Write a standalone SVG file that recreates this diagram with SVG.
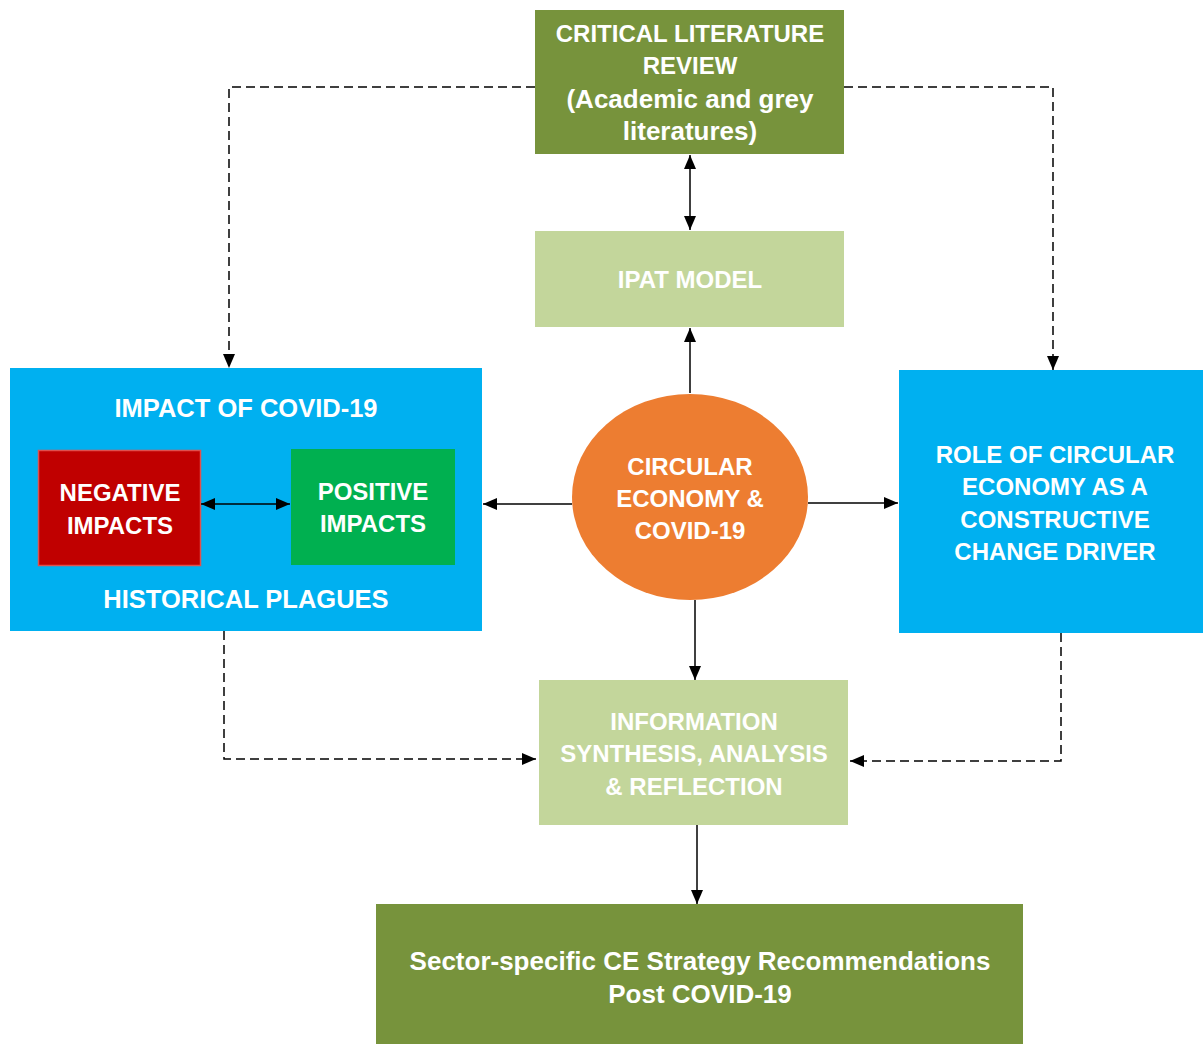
<svg xmlns="http://www.w3.org/2000/svg" width="1203" height="1044" viewBox="0 0 1203 1044">
<style>
text{font-family:"Liberation Sans",Arial,sans-serif;font-weight:bold;fill:#fff;text-anchor:middle;font-size:24px}
.lc{font-size:26px}
.t25{font-size:25.5px}
.s{stroke:#000;stroke-width:1.5;fill:none}
.d{stroke:#000;stroke-width:1.5;fill:none;stroke-dasharray:9 5}
</style>
<defs>
<marker id="ah" markerUnits="userSpaceOnUse" markerWidth="14" markerHeight="14" viewBox="0 0 14 14" refX="14" refY="7" orient="auto-start-reverse">
<path d="M0,1 L14,7 L0,13 Z" fill="#000"/>
</marker>
</defs>
<rect width="1203" height="1044" fill="#fff"/>
<g id="literature">
<rect x="535" y="10" width="309" height="144" fill="#77933C"/>
<text x="690" y="42">CRITICAL LITERATURE</text>
<text x="690" y="74">REVIEW</text>
<text class="lc" x="690" y="108">(Academic and grey</text>
<text class="lc" x="690" y="140">literatures)</text>
</g>
<g id="ipat">
<rect x="535" y="231" width="309" height="96" fill="#C3D69B"/>
<text x="690" y="288">IPAT MODEL</text>
</g>
<g id="impact">
<rect x="10" y="368" width="472" height="263" fill="#00B0F0"/>
<text class="t25" x="246" y="417">IMPACT OF COVID-19</text>
<text class="t25" x="246" y="608">HISTORICAL PLAGUES</text>
</g>
<g id="negative">
<rect x="38.5" y="450.5" width="162" height="115" fill="#C00000" stroke="#E0504E" stroke-width="1.5"/>
<text x="120" y="501">NEGATIVE</text>
<text x="120" y="534">IMPACTS</text>
</g>
<g id="positive">
<rect x="291" y="449" width="164" height="116" fill="#00B050"/>
<text x="373" y="500">POSITIVE</text>
<text x="373" y="532">IMPACTS</text>
</g>
<g id="circular">
<ellipse cx="690" cy="497" rx="118" ry="103" fill="#ED7D31"/>
<text x="690" y="475">CIRCULAR</text>
<text x="690" y="507">ECONOMY &amp;</text>
<text x="690" y="539">COVID-19</text>
</g>
<g id="role">
<rect x="899" y="370" width="304" height="263" fill="#00B0F0"/>
<text x="1055" y="463">ROLE OF CIRCULAR</text>
<text x="1055" y="495">ECONOMY AS A</text>
<text x="1055" y="528">CONSTRUCTIVE</text>
<text x="1055" y="560">CHANGE DRIVER</text>
</g>
<g id="synthesis">
<rect x="539" y="680" width="309" height="145" fill="#C3D69B"/>
<text x="694" y="730">INFORMATION</text>
<text x="694" y="762">SYNTHESIS, ANALYSIS</text>
<text x="694" y="795">&amp; REFLECTION</text>
</g>
<g id="recommendations">
<rect x="376" y="904" width="647" height="140" fill="#77933C"/>
<text class="lc" x="700" y="970">Sector-specific CE Strategy Recommendations</text>
<text class="lc" x="700" y="1003">Post COVID-19</text>
</g>
<g id="connectors">
<line class="s" x1="690" y1="155" x2="690" y2="230" marker-start="url(#ah)" marker-end="url(#ah)"/>
<line class="s" x1="690" y1="393" x2="690" y2="328" marker-end="url(#ah)"/>
<line class="s" x1="201" y1="504" x2="290" y2="504" marker-start="url(#ah)" marker-end="url(#ah)"/>
<line class="s" x1="572" y1="504" x2="483" y2="504" marker-end="url(#ah)"/>
<line class="s" x1="808" y1="503" x2="898" y2="503" marker-end="url(#ah)"/>
<line class="s" x1="695" y1="600" x2="695" y2="680" marker-end="url(#ah)"/>
<line class="s" x1="697" y1="825" x2="697" y2="904" marker-end="url(#ah)"/>
<polyline class="d" points="535,87 229,87 229,368" marker-end="url(#ah)"/>
<polyline class="d" points="844,87 1053,87 1053,370" marker-end="url(#ah)"/>
<polyline class="d" points="224,631 224,759 536,759" marker-end="url(#ah)"/>
<polyline class="d" points="1061,633 1061,761 850,761" marker-end="url(#ah)"/>
</g>
</svg>
